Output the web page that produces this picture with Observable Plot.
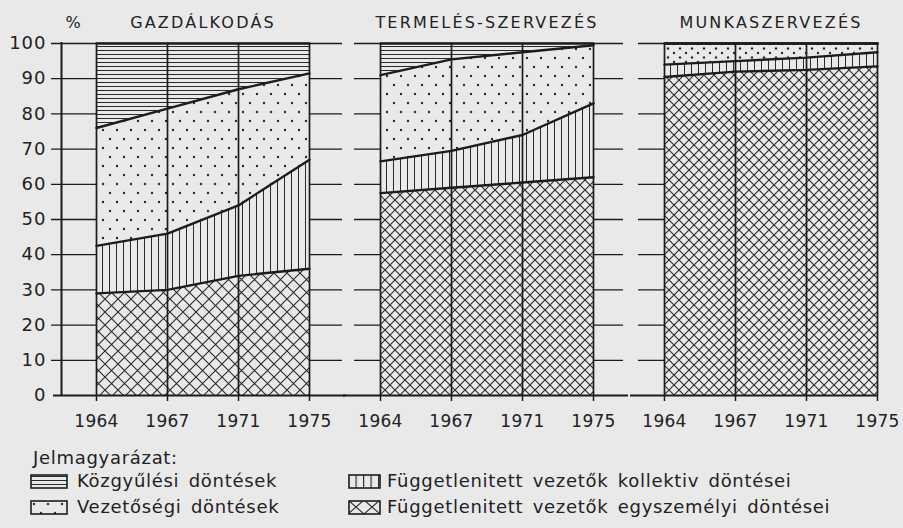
<!DOCTYPE html>
<html><head><meta charset="utf-8">
<script src="https://cdn.jsdelivr.net/npm/d3@7"></script>
<script src="https://cdn.jsdelivr.net/npm/@observablehq/plot@0.6"></script>
<style>
html,body{margin:0;padding:0;background:#e9e9e9;}
#wrap{position:relative;width:903px;height:528px;overflow:hidden;font-family:"DejaVu Sans",sans-serif;color:#222;}
#chart{position:absolute;left:0;top:0;}
.leg{position:absolute;font-size:18px;line-height:20px;white-space:nowrap;letter-spacing:0.7px;word-spacing:3px;}
.sw{position:absolute;}
[aria-label^="fx-axis"] text{letter-spacing:2.2px;}
[aria-label^="y-axis"] text{letter-spacing:1px;}
[aria-label^="x-axis"] text{letter-spacing:0.3px;}
</style></head><body>
<svg width="0" height="0" style="position:absolute">
  <defs>
    <pattern id="pHor" patternUnits="userSpaceOnUse" width="6" height="4">
      <rect width="6" height="4" fill="#e9e9e9"/>
      <line x1="0" y1="2" x2="6" y2="2" stroke="#2a2a2a" stroke-width="1" shape-rendering="crispEdges"/>
    </pattern>
    <pattern id="pVert" patternUnits="userSpaceOnUse" width="7" height="6">
      <rect width="7" height="6" fill="#e9e9e9"/>
      <line x1="3.5" y1="0" x2="3.5" y2="6" stroke="#2a2a2a" stroke-width="1"/>
    </pattern>
    <pattern id="pDots" patternUnits="userSpaceOnUse" width="14" height="18">
      <rect width="14" height="18" fill="#e9e9e9"/>
      <circle cx="4" cy="4" r="1.2" fill="#2a2a2a"/>
      <circle cx="11" cy="13" r="1.2" fill="#2a2a2a"/>
    </pattern>
    <pattern id="pDotsS" patternUnits="userSpaceOnUse" width="12" height="9" y="1">
      <rect width="12" height="9" fill="#e9e9e9"/>
      <circle cx="3" cy="2.5" r="1.2" fill="#2a2a2a"/>
      <circle cx="9" cy="7" r="1.2" fill="#2a2a2a"/>
    </pattern>
    <pattern id="pCrossA" patternUnits="userSpaceOnUse" width="13" height="13">
      <rect width="13" height="13" fill="#e9e9e9"/>
      <path d="M0,0L13,13M13,0L0,13" stroke="#2a2a2a" stroke-width="1.1"/>
    </pattern>
    <pattern id="pCrossB" patternUnits="userSpaceOnUse" width="10" height="10">
      <rect width="10" height="10" fill="#e9e9e9"/>
      <path d="M0,0L10,10M10,0L0,10" stroke="#2a2a2a" stroke-width="1.1"/>
    </pattern>
    <pattern id="pCrossL" patternUnits="userSpaceOnUse" width="16" height="14">
      <rect width="16" height="14" fill="#e9e9e9"/>
      <path d="M0,0L16,14M16,0L0,14" stroke="#2a2a2a" stroke-width="1.1"/>
    </pattern>
    <pattern id="pVertL" patternUnits="userSpaceOnUse" width="7.5" height="14">
      <rect width="7.5" height="14" fill="#e9e9e9"/>
      <line x1="0.5" y1="0" x2="0.5" y2="14" stroke="#2a2a2a" stroke-width="1.3"/>
    </pattern>
  </defs>
</svg>
<div id="wrap"><div id="chart"></div><div id="legend"></div></div>
<script>
// ---- data ----
const years = ["1964", "1967", "1971", "1975"];
const panels = ["GAZDÁLKODÁS", "TERMELÉS-SZERVEZÉS", "MUNKASZERVEZÉS"];
// bottom to top
const categories = [
  "Függetlenitett vezetők egyszemélyi döntései",
  "Függetlenitett vezetők kollektiv döntései",
  "Vezetőségi döntések",
  "Közgyűlési döntések"
];
// shares (%) per category, in the order of `categories`, per year
const gazdalkodas = [
  [29, 30, 34, 36],
  [13.5, 16, 20, 31],
  [33.5, 35.5, 33, 24.5],
  [24, 18.5, 13, 8.5]
];
const termelesSzervezes = [
  [57.5, 59, 60.5, 62],
  [9, 10.5, 13.5, 21],
  [24.5, 26, 23.5, 16.5],
  [9, 4.5, 2.5, 0.5]
];
const munkaszervezes = [
  [90.5, 92, 92.5, 93.5],
  [3.5, 3, 3.5, 4],
  [6, 5, 4, 2.5],
  [0, 0, 0, 0]
];
const yTicks = [0, 10, 20, 30, 40, 50, 60, 70, 80, 90, 100];
const legendOrder = [3, 2, 1, 0]; // column 1 (top, bottom), then column 2

// ---- build tables ----
const panelData = [gazdalkodas, termelesSzervezes, munkaszervezes];
const rows = [];
panels.forEach((p, pi) => panelData[pi].forEach((vals, ci) => vals.forEach((v, yi) =>
  rows.push({panel: p, cat: categories[ci], year: years[yi], value: v}))));

const fillOf = d => {
  if (d.cat === categories[0]) return d.panel === panels[0] ? "url(#pCrossA)" : "url(#pCrossB)";
  if (d.cat === categories[1]) return "url(#pVert)";
  if (d.cat === categories[2]) return d.panel === panels[2] ? "url(#pDotsS)" : "url(#pDots)";
  return "url(#pHor)";
};

const stubs = panels.flatMap(p => yTicks.filter(t => t > 0).map(t => ({panel: p, v: t})));
const yearRows = panels.flatMap(p => years.map(y => ({panel: p, year: y})));
const ink = "#1c1c1c";

const stubMarks = [
  [0, -45, -33], [1, -26, -30], [2, -26, 0]
].map(([pi, l, r]) => Plot.ruleY(stubs.filter(d => d.panel === panels[pi]),
  {y: "v", fx: "panel", insetLeft: l, insetRight: r, stroke: ink, strokeWidth: 1.3}));
const baseMarks = [
  [0, -43, -37], [1, -37, -35], [2, -34, 0]
].map(([pi, l, r]) => Plot.ruleY([{panel: panels[pi], v: 0}],
  {y: "v", fx: "panel", insetLeft: l, insetRight: r, stroke: ink, strokeWidth: 2}));

const chart = Plot.plot({
  width: 903,
  height: 432,
  marginTop: 43,
  marginBottom: 37,
  marginLeft: 95,
  marginRight: 26,
  style: {background: "transparent", fontFamily: "DejaVu Sans, sans-serif", color: "#222"},
  fx: {domain: panels, paddingInner: 0.25, paddingOuter: 0, label: null},
  x: {type: "point", domain: years, padding: 0, label: null},
  y: {domain: [0, 100], label: null},
  color: {type: "identity"},
  marks: [
    ...stubMarks,
    Plot.areaY(rows, Plot.stackY({x: "year", y: "value", z: "cat", fx: "panel", fill: fillOf})),
    Plot.lineY(rows, Plot.stackY2({x: "year", y: "value", z: "cat", fx: "panel", stroke: ink, strokeWidth: 2.4})),
    Plot.ruleX(yearRows, {x: "year", fx: "panel", y1: 0, y2: 100, stroke: ink, strokeWidth: 1.7}),
    ...baseMarks,
    Plot.ruleX([{panel: panels[0]}], {x: () => years[0], fx: "panel", y1: 0, y2: 100.3, dx: -35, stroke: ink, strokeWidth: 2}),
    Plot.text([{panel: panels[0]}], {fx: "panel", frameAnchor: "top-left", text: () => "%", dx: -31, dy: -27, fontSize: 16, textAnchor: "start"}),
    Plot.axisY({anchor: "left", ticks: yTicks, tickSize: 0, tickPadding: 50, fontSize: 18, label: null}),
    Plot.axisX({anchor: "bottom", tickSize: 6, tickPadding: 13, fontSize: 17, label: null, stroke: ink, strokeWidth: 1.5}),
    Plot.axisFx({anchor: "top", tickSize: 0, tickPadding: 16, fontSize: 16, label: null})
  ]
});
document.getElementById("chart").appendChild(chart);

// ---- legend ----
const leg = document.getElementById("legend");
const title = document.createElement("div");
title.className = "leg";
title.style.left = "33px"; title.style.top = "448px";
title.textContent = "Jelmagyarázat:";
leg.appendChild(title);
const legPattern = {
  [categories[0]]: "url(#pCrossL)",
  [categories[1]]: "url(#pVertL)",
  [categories[2]]: "url(#pDots)",
  [categories[3]]: "url(#pHor)"
};
legendOrder.forEach((ci, k) => {
  const col = Math.floor(k / 2), row = k % 2;
  const sx = col ? 348 : 30, tx = col ? 387 : 77;
  const sy = row ? 500 : 474;
  const sw = d3.create("svg").attr("class", "sw").attr("width", 38).attr("height", 16)
    .style("left", sx + "px").style("top", sy + "px");
  sw.append("rect").attr("x", 1).attr("y", 1).attr("width", col ? 31 : 36).attr("height", 13)
    .attr("fill", legPattern[categories[ci]]).attr("stroke", ink).attr("stroke-width", 1.6);
  leg.appendChild(sw.node());
  const t = document.createElement("div");
  t.className = "leg";
  t.style.left = tx + "px"; t.style.top = (sy - 3) + "px";
  t.textContent = categories[ci];
  leg.appendChild(t);
});
</script>
</body></html>
